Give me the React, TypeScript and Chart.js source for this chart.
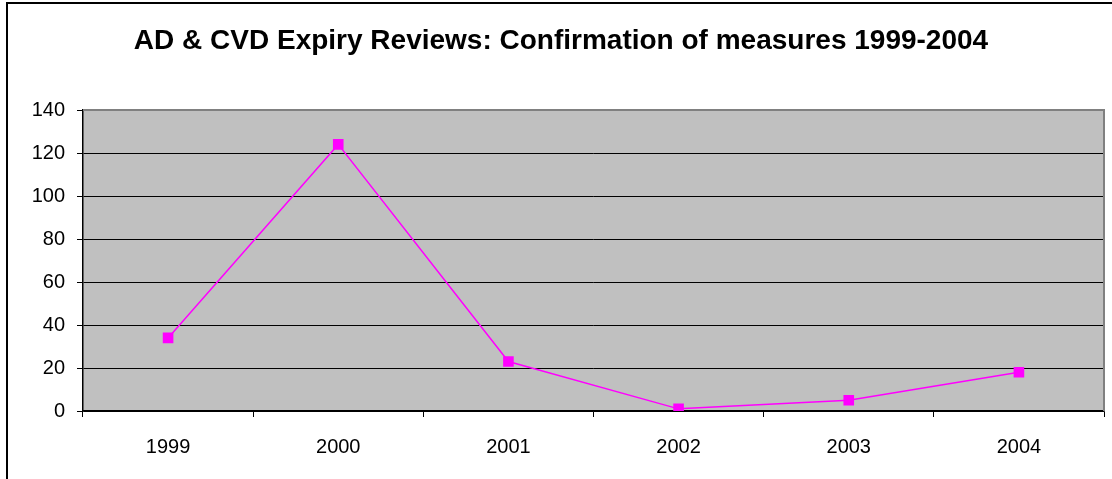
import React, { useEffect, useRef } from "react";
import { Chart, registerables } from "chart.js";

Chart.register(...registerables);

const categories = ["1999", "2000", "2001", "2002", "2003", "2004"];
const confirmations = [34, 124, 23, 1, 5, 18];
const yTicks = [0, 20, 40, 60, 80, 100, 120, 140];
const titleText = "AD & CVD Expiry Reviews: Confirmation of measures 1999-2004";

const framePlugin = {
  id: "frame",
  beforeDraw(chart: any) {
    const { ctx, chartArea } = chart;
    ctx.save();
    ctx.fillStyle = "#ffffff";
    ctx.fillRect(0, 0, chart.width, chart.height);
    ctx.strokeStyle = "#000000";
    ctx.lineWidth = 2;
    ctx.strokeRect(7, 3, chart.width + 20, chart.height + 20);
    ctx.fillStyle = "#C0C0C0";
    ctx.fillRect(chartArea.left, chartArea.top, chartArea.right - chartArea.left, chartArea.bottom - chartArea.top);
    ctx.fillStyle = "#000000";
    ctx.font = "bold 28px 'Liberation Sans', Arial, sans-serif";
    ctx.textAlign = "center";
    ctx.textBaseline = "middle";
    ctx.fillText(titleText, 561, 41);
    ctx.restore();
  },
  beforeDatasetsDraw(chart: any) {
    const { ctx, chartArea } = chart;
    ctx.save();
    ctx.strokeStyle = "#808080";
    ctx.lineWidth = 2;
    ctx.beginPath();
    ctx.moveTo(chartArea.left, chartArea.top);
    ctx.lineTo(chartArea.right, chartArea.top);
    ctx.lineTo(chartArea.right, chartArea.bottom);
    ctx.stroke();
    ctx.restore();
  },
};

export default function App() {
  const ref = useRef<HTMLCanvasElement>(null);
  useEffect(() => {
    const chart = new Chart(ref.current as HTMLCanvasElement, {
      type: "line",
      data: {
        labels: categories,
        datasets: [
          {
            data: confirmations,
            borderColor: "#FF00FF",
            backgroundColor: "#FF00FF",
            borderWidth: 1.5,
            pointStyle: "rect",
            pointRadius: 7.5,
            pointBorderWidth: 0,
            tension: 0,
          },
        ],
      },
      options: {
        animation: false,
        responsive: false,
        layout: { padding: { top: 110, right: 8, left: 0, bottom: 0 } },
        plugins: { legend: { display: false }, title: { display: false }, tooltip: { enabled: false } },
        scales: {
          x: {
            offset: true,
            grid: { offset: true, drawOnChartArea: false, color: "#000000", tickLength: 6, tickWidth: 1 },
            border: { color: "#000000", width: 1.5 },
            ticks: { color: "#000000", font: { family: "'Liberation Sans', Arial, sans-serif", size: 20 }, padding: 18, maxRotation: 0 },
            afterFit: (s: any) => { s.height = 68; },
          },
          y: {
            min: 0,
            max: 140,
            afterBuildTicks: (s: any) => { s.ticks = yTicks.map((v) => ({ value: v })); },
            grid: { color: "#000000", tickLength: 6, lineWidth: 1 },
            border: { color: "#000000", width: 1.5 },
            ticks: { color: "#000000", font: { family: "'Liberation Sans', Arial, sans-serif", size: 20 }, padding: 12 },
            afterFit: (s: any) => { s.width = 83; },
          },
        },
      },
      plugins: [framePlugin],
    });
    return () => chart.destroy();
  }, []);
  return (
    <div style={{ position: "fixed", left: 0, top: 0, width: 1112, height: 479 }}>
      <canvas ref={ref} width={1112} height={479} style={{ display: "block" }} />
    </div>
  );
}
